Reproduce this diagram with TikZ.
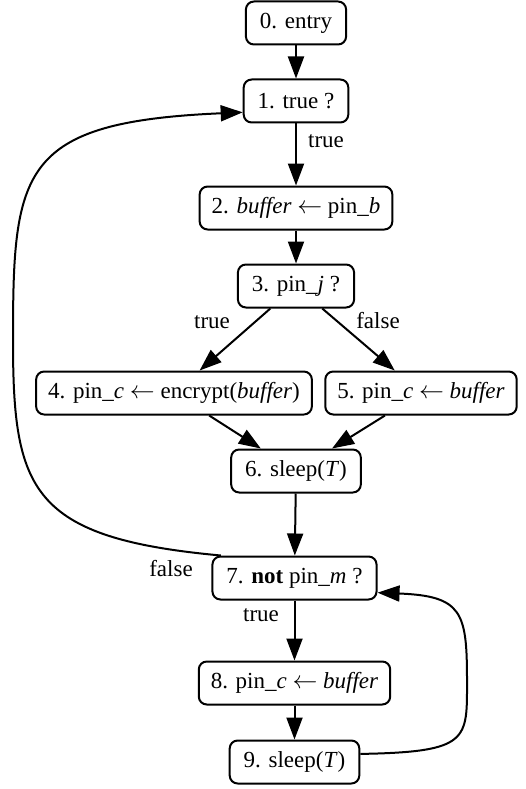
\documentclass[tikz,border=0pt]{standalone}
\usepackage{fontspec}
\setmainfont{Liberation Serif}
\usetikzlibrary{arrows.meta}
\newcommand{\assignarrow}{\ensuremath{\leftarrow}}
\begin{document}
\begin{tikzpicture}[x=1pt,y=-1pt,
  font=\fontsize{23}{27}\selectfont,
  stepbox/.style={draw,line width=2pt,rounded corners=8pt,minimum height=43pt,inner xsep=12pt,inner ysep=4pt},
  flow/.style={line width=2pt,-{Triangle[length=22pt,width=16pt]}},
  lbl/.style={inner sep=0pt}]
\useasboundingbox (0,0) rectangle (526,789);

% program steps
\node[stepbox,inner xsep=14pt] (n0) at (296,23)  {0. entry};
\node[stepbox,inner xsep=14pt] (n1) at (296,101) {1. true ?};
\node[stepbox] (n2) at (296,208) {2. \textit{buffer} \assignarrow{} pin\_\textit{b}};
\node[stepbox,inner xsep=14pt] (n3) at (296,286) {3. pin\_\textit{j} ?};
\node[stepbox] (n4) at (174,393) {4. pin\_\textit{c} \assignarrow{} encrypt(\textit{buffer})};
\node[stepbox] (n5) at (421,393) {5. pin\_\textit{c} \assignarrow{} \textit{buffer}};
\node[stepbox,inner xsep=14pt] (n6) at (296,471) {6. sleep(\textit{T})};
\node[stepbox,inner xsep=14pt] (n7) at (294.5,578) {7. \textbf{not} pin\_\textit{m} ?};
\node[stepbox] (n8) at (294.5,683) {8. pin\_\textit{c} \assignarrow{} \textit{buffer}};
\node[stepbox,inner xsep=14pt] (n9) at (294.5,762) {9. sleep(\textit{T})};

% branch labels
\node[lbl] (l1) at (326,141) {true};
\node[lbl] (l3t) at (212,322) {true};
\node[lbl] (l3f) at (378,321) {false};
\node[lbl] (l7f) at (171,569) {false};
\node[lbl] (l7t) at (261,615) {true};

% straight transitions
\draw[flow] (n0) -- (n1);
\draw[flow] (n1) -- (n2);
\draw[flow] (n2) -- (n3);
\draw[flow] (n3) -- (n4);
\draw[flow] (n3) -- (n5);
\draw[flow] (n4) -- (n6);
\draw[flow] (n5) -- (n6);
\draw[flow] (n6) -- (n7);
\draw[flow] (n7) -- (n8);
\draw[flow] (n8) -- (n9);

% outer loop back to the test
\draw[flow] (n7.163) .. controls (30,538) and (13,490) .. (13,340)
                     .. controls (13,170) and (20,122) .. (n1.192);

% inner wait loop
\draw[flow] (n9.7) .. controls (470,752) and (467,740) .. (467,680)
                   .. controls (467,612) and (462,596) .. (n7.-10);
\end{tikzpicture}
\end{document}
